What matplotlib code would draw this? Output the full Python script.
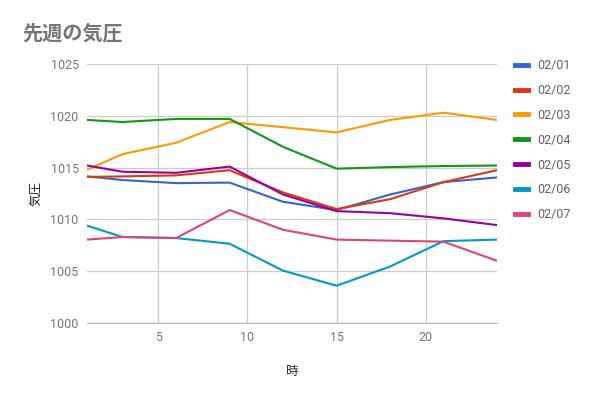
import matplotlib
matplotlib.use('Agg')
import matplotlib.pyplot as plt

plt.rcParams['font.family'] = ['Roboto', 'Noto Sans CJK JP', 'DejaVu Sans']

# 時刻 (x) と各日の気圧
hours = [1, 3, 6, 9, 12, 15, 18, 21, 24]
labels = ['02/01', '02/02', '02/03', '02/04', '02/05', '02/06', '02/07']
p0201 = [1014.15, 1013.8, 1013.5, 1013.55, 1011.7, 1010.9, 1012.4, 1013.6, 1014.05]
p0202 = [1014.1, 1014.15, 1014.25, 1014.75, 1012.6, 1011.0, 1011.95, 1013.6, 1014.75]
p0203 = [1014.8, 1016.3, 1017.4, 1019.4, 1018.9, 1018.4, 1019.6, 1020.3, 1019.6]
p0204 = [1019.6, 1019.4, 1019.7, 1019.7, 1017.0, 1014.9, 1015.05, 1015.15, 1015.2]
p0205 = [1015.2, 1014.6, 1014.5, 1015.1, 1012.4, 1010.8, 1010.6, 1010.1, 1009.45]
p0206 = [1009.4, 1008.3, 1008.2, 1007.65, 1005.05, 1003.6, 1005.45, 1007.9, 1008.05]
p0207 = [1008.05, 1008.3, 1008.2, 1010.9, 1009.0, 1008.05, 1007.95, 1007.85, 1006.0]
series = [p0201, p0202, p0203, p0204, p0205, p0206, p0207]
colors = ['#3366cc', '#dc3912', '#ff9900', '#109618', '#990099', '#0099c6', '#dd4477']

fig = plt.figure(figsize=(5.91, 3.97), dpi=100)
ax = fig.add_axes([87/591, 1 - 323/397, (497-87)/591, (323-64)/397])

for vals, lab, c in zip(series, labels, colors):
    ax.plot(hours, vals, color=c, lw=1.5, label=lab, solid_joinstyle='round')

ax.set_xlim(1, 24)
ax.set_ylim(1000, 1025)
ax.set_xticks([5, 10, 15, 20])
ax.set_yticks([1000, 1005, 1010, 1015, 1020, 1025])
ax.grid(True, color='#cccccc', lw=0.9)
ax.set_axisbelow(True)
for s in ['top', 'right', 'left']:
    ax.spines[s].set_visible(False)
ax.spines['bottom'].set_color('#bbbbbb')
ax.tick_params(length=0, labelsize=9, labelcolor='#757575', pad=6)
ax.tick_params(axis='y', pad=6)

ax.set_xlabel('時', fontsize=9, color='#222222', labelpad=15,
              family=['Noto Sans CJK JP', 'DejaVu Sans'])
ax.set_ylabel('気圧', fontsize=9, color='#222222', labelpad=6,
              family=['Noto Sans CJK JP', 'DejaVu Sans'])

fig.text(22/591, 1 - 33/397, '先週の気圧', fontsize=14.5, color='#757575',
         fontweight='bold', va='center', family=['Noto Sans CJK JP', 'DejaVu Sans'])

leg = ax.legend(loc='upper left', bbox_to_anchor=(515/591, 1 - 59/397),
                bbox_transform=fig.transFigure, frameon=False, fontsize=9,
                handlelength=1.0, handletextpad=0.8, labelspacing=0.95,
                borderaxespad=0, borderpad=0)
for t in leg.get_texts():
    t.set_color('#616161')
for h in leg.get_lines():
    h.set_linewidth(3.5)

fig.savefig('out.png', dpi=100)
